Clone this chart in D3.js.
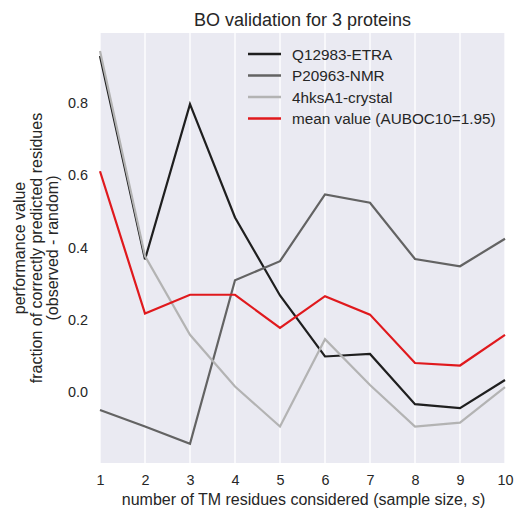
<!DOCTYPE html>
<html>
<head>
<meta charset="utf-8">
<script src="https://cdn.jsdelivr.net/npm/d3@7"></script>
<style>
  body { margin: 0; background: #fff; }
  text { font-family: "Liberation Sans", Arial, sans-serif; fill: #262626; }
</style>
</head>
<body>
<svg id="chart" width="514" height="510"></svg>
<script>
const sampleSizes = [1, 2, 3, 4, 5, 6, 7, 8, 9, 10];
const seriesNames = ["Q12983-ETRA", "P20963-NMR", "4hksA1-crystal", "mean value (AUBOC10=1.95)"];
const q12983 = [0.930, 0.367, 0.797, 0.483, 0.267, 0.098, 0.105, -0.034, -0.045, 0.033];
const p20963 = [-0.050, -0.096, -0.144, 0.309, 0.362, 0.547, 0.524, 0.368, 0.348, 0.424];
const hks4 = [0.944, 0.376, 0.158, 0.015, -0.096, 0.146, 0.019, -0.096, -0.085, 0.013];
const meanValue = [0.611, 0.217, 0.269, 0.269, 0.177, 0.265, 0.214, 0.080, 0.073, 0.158];
const yTicks = [0.0, 0.2, 0.4, 0.6, 0.8];
const seriesColors = ["#1f1f1f", "#636363", "#b3b3b3", "#e0191d"];

const svg = d3.select("#chart");
const mLeft = 100, mRight = 505, mTop = 33, mBottom = 463;

const x = d3.scaleLinear().domain([1, 10]).range([mLeft, mRight]);
const y = d3.scaleLinear().domain([-0.197, 0.994]).range([mBottom, mTop]);

svg.append("rect").attr("x", mLeft).attr("y", mTop)
  .attr("width", mRight - mLeft).attr("height", mBottom - mTop).attr("fill", "#eaeaf2");

// vertical grid lines
svg.append("g").selectAll("line").data(sampleSizes).join("line")
  .attr("x1", d => x(d)).attr("x2", d => x(d))
  .attr("y1", mTop).attr("y2", mBottom)
  .attr("stroke", "#ffffff").attr("stroke-width", 1.3);

// x axis
const xAxis = svg.append("g").attr("transform", `translate(0,${mBottom})`)
  .call(d3.axisBottom(x).tickValues(sampleSizes).tickFormat(d3.format("d")).tickSize(0).tickPadding(12));
xAxis.select(".domain").remove();
xAxis.selectAll("text").style("font-size", "14.4px").attr("fill", "#262626");

// y axis
const yAxis = svg.append("g").attr("transform", `translate(${mLeft},0)`)
  .call(d3.axisLeft(y).tickValues(yTicks).tickFormat(d3.format(".1f")).tickSize(0).tickPadding(12));
yAxis.select(".domain").remove();
yAxis.selectAll("text").style("font-size", "14.4px").attr("fill", "#262626");

// lines
const allSeries = [q12983, p20963, hks4, meanValue];
const line = d3.line().x((d, i) => x(sampleSizes[i])).y(d => y(d));
allSeries.forEach((s, k) => {
  svg.append("path").datum(s).attr("d", line)
    .attr("fill", "none").attr("stroke", seriesColors[k])
    .attr("stroke-width", 2.2).attr("stroke-linejoin", "miter");
});

// legend
const lg = svg.append("g");
seriesNames.forEach((n, k) => {
  const yy = 54 + k * 21.5;
  lg.append("line").attr("x1", 248).attr("x2", 281).attr("y1", yy).attr("y2", yy)
    .attr("stroke", seriesColors[k]).attr("stroke-width", 2.5);
  lg.append("text").attr("x", 292).attr("y", yy + 5.5).style("font-size", "15.3px").text(n);
});

// title
svg.append("text").attr("x", (mLeft + mRight) / 2).attr("y", 26)
  .attr("text-anchor", "middle").style("font-size", "18px").text("BO validation for 3 proteins");

// x label
const xl = svg.append("text").attr("x", (mLeft + mRight) / 2 + 1).attr("y", 505)
  .attr("text-anchor", "middle").style("font-size", "16px");
xl.append("tspan").text("number of TM residues considered (sample size, ");
xl.append("tspan").style("font-style", "italic").text("s");
xl.append("tspan").text(")");

// y label
const yl = svg.append("text").attr("transform", `translate(25,${(mTop + mBottom) / 2}) rotate(-90)`)
  .attr("text-anchor", "middle").style("font-size", "16px");
["performance value", "fraction of correctly predicted residues", "(observed - random)"].forEach((t, i) => {
  yl.append("tspan").attr("x", 0).attr("dy", i === 0 ? 0 : 16.5).text(t);
});
</script>
</body>
</html>
